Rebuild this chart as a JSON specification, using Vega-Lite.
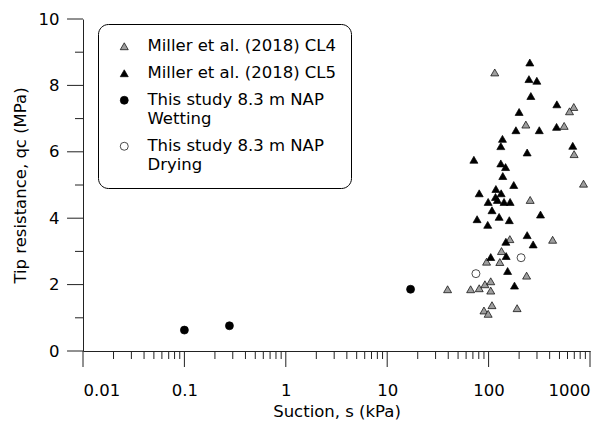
{
  "$schema": "https://vega.github.io/schema/vega-lite/v6.json",
  "width": 507,
  "height": 332,
  "autosize": "none",
  "padding": {"left": 83, "top": 19, "right": 23, "bottom": 72},
  "background": "white",
  "config": {
    "view": {"stroke": null},
    "font": "DejaVu Sans",
    "axis": {
      "labelFont": "DejaVu Sans", "labelFontSize": 16.5, "labelColor": "black",
      "titleFont": "DejaVu Sans", "titleFontSize": 16.5, "titleFontWeight": "normal", "titleColor": "black",
      "domainColor": "#222", "domainWidth": 1, "ticks": false, "grid": false
    },
    "legend": {"labelFont": "DejaVu Sans", "labelFontSize": 16.5, "labelColor": "black"}
  },
  "datasets": {
    "ticks": [
      {"kind": "xmajor", "value": 0.01}, {"kind": "xmajor", "value": 0.1}, {"kind": "xmajor", "value": 1},
      {"kind": "xmajor", "value": 10}, {"kind": "xmajor", "value": 100}, {"kind": "xmajor", "value": 1000},
      {"kind": "xminor", "value": 0.02}, {"kind": "xminor", "value": 0.03}, {"kind": "xminor", "value": 0.04},
      {"kind": "xminor", "value": 0.05}, {"kind": "xminor", "value": 0.06}, {"kind": "xminor", "value": 0.07},
      {"kind": "xminor", "value": 0.08}, {"kind": "xminor", "value": 0.09},
      {"kind": "xminor", "value": 0.2}, {"kind": "xminor", "value": 0.3}, {"kind": "xminor", "value": 0.4},
      {"kind": "xminor", "value": 0.5}, {"kind": "xminor", "value": 0.6}, {"kind": "xminor", "value": 0.7},
      {"kind": "xminor", "value": 0.8}, {"kind": "xminor", "value": 0.9},
      {"kind": "xminor", "value": 2}, {"kind": "xminor", "value": 3}, {"kind": "xminor", "value": 4},
      {"kind": "xminor", "value": 5}, {"kind": "xminor", "value": 6}, {"kind": "xminor", "value": 7},
      {"kind": "xminor", "value": 8}, {"kind": "xminor", "value": 9},
      {"kind": "xminor", "value": 20}, {"kind": "xminor", "value": 30}, {"kind": "xminor", "value": 40},
      {"kind": "xminor", "value": 50}, {"kind": "xminor", "value": 60}, {"kind": "xminor", "value": 70},
      {"kind": "xminor", "value": 80}, {"kind": "xminor", "value": 90},
      {"kind": "xminor", "value": 200}, {"kind": "xminor", "value": 300}, {"kind": "xminor", "value": 400},
      {"kind": "xminor", "value": 500}, {"kind": "xminor", "value": 600}, {"kind": "xminor", "value": 700},
      {"kind": "xminor", "value": 800}, {"kind": "xminor", "value": 900},
      {"kind": "ymajor", "value": 0}, {"kind": "ymajor", "value": 2}, {"kind": "ymajor", "value": 4},
      {"kind": "ymajor", "value": 6}, {"kind": "ymajor", "value": 8}, {"kind": "ymajor", "value": 10},
      {"kind": "yminor", "value": 1}, {"kind": "yminor", "value": 3}, {"kind": "yminor", "value": 5},
      {"kind": "yminor", "value": 7}, {"kind": "yminor", "value": 9}
    ],
    "points": [
      {"s": 39.4, "qc": 1.86, "series": "Miller et al. (2018) CL4"},
      {"s": 66.5, "qc": 1.86, "series": "Miller et al. (2018) CL4"},
      {"s": 80.8, "qc": 1.89, "series": "Miller et al. (2018) CL4"},
      {"s": 92, "qc": 2.01, "series": "Miller et al. (2018) CL4"},
      {"s": 105, "qc": 2.10, "series": "Miller et al. (2018) CL4"},
      {"s": 105, "qc": 1.82, "series": "Miller et al. (2018) CL4"},
      {"s": 108, "qc": 1.38, "series": "Miller et al. (2018) CL4"},
      {"s": 90, "qc": 1.22, "series": "Miller et al. (2018) CL4"},
      {"s": 99, "qc": 1.12, "series": "Miller et al. (2018) CL4"},
      {"s": 191, "qc": 1.29, "series": "Miller et al. (2018) CL4"},
      {"s": 237, "qc": 2.27, "series": "Miller et al. (2018) CL4"},
      {"s": 95.5, "qc": 2.69, "series": "Miller et al. (2018) CL4"},
      {"s": 129, "qc": 2.68, "series": "Miller et al. (2018) CL4"},
      {"s": 134, "qc": 3.01, "series": "Miller et al. (2018) CL4"},
      {"s": 162, "qc": 3.37, "series": "Miller et al. (2018) CL4"},
      {"s": 428, "qc": 3.35, "series": "Miller et al. (2018) CL4"},
      {"s": 697, "qc": 5.93, "series": "Miller et al. (2018) CL4"},
      {"s": 863, "qc": 5.04, "series": "Miller et al. (2018) CL4"},
      {"s": 257, "qc": 4.55, "series": "Miller et al. (2018) CL4"},
      {"s": 115, "qc": 8.39, "series": "Miller et al. (2018) CL4"},
      {"s": 692, "qc": 7.35, "series": "Miller et al. (2018) CL4"},
      {"s": 628, "qc": 7.22, "series": "Miller et al. (2018) CL4"},
      {"s": 233, "qc": 6.82, "series": "Miller et al. (2018) CL4"},
      {"s": 556, "qc": 6.78, "series": "Miller et al. (2018) CL4"},
      {"s": 148, "qc": 3.29, "series": "Miller et al. (2018) CL5"},
      {"s": 105, "qc": 2.83, "series": "Miller et al. (2018) CL5"},
      {"s": 149, "qc": 2.86, "series": "Miller et al. (2018) CL5"},
      {"s": 154, "qc": 2.41, "series": "Miller et al. (2018) CL5"},
      {"s": 180, "qc": 1.97, "series": "Miller et al. (2018) CL5"},
      {"s": 275, "qc": 3.21, "series": "Miller et al. (2018) CL5"},
      {"s": 240, "qc": 3.49, "series": "Miller et al. (2018) CL5"},
      {"s": 132, "qc": 6.17, "series": "Miller et al. (2018) CL5"},
      {"s": 240, "qc": 5.98, "series": "Miller et al. (2018) CL5"},
      {"s": 676, "qc": 6.18, "series": "Miller et al. (2018) CL5"},
      {"s": 71.6, "qc": 5.76, "series": "Miller et al. (2018) CL5"},
      {"s": 132, "qc": 5.65, "series": "Miller et al. (2018) CL5"},
      {"s": 147, "qc": 5.54, "series": "Miller et al. (2018) CL5"},
      {"s": 138, "qc": 5.27, "series": "Miller et al. (2018) CL5"},
      {"s": 177, "qc": 5.0, "series": "Miller et al. (2018) CL5"},
      {"s": 80.8, "qc": 4.75, "series": "Miller et al. (2018) CL5"},
      {"s": 118, "qc": 4.88, "series": "Miller et al. (2018) CL5"},
      {"s": 133, "qc": 4.75, "series": "Miller et al. (2018) CL5"},
      {"s": 117, "qc": 4.64, "series": "Miller et al. (2018) CL5"},
      {"s": 122, "qc": 4.55, "series": "Miller et al. (2018) CL5"},
      {"s": 99, "qc": 4.49, "series": "Miller et al. (2018) CL5"},
      {"s": 142, "qc": 4.49, "series": "Miller et al. (2018) CL5"},
      {"s": 163, "qc": 4.49, "series": "Miller et al. (2018) CL5"},
      {"s": 108, "qc": 4.24, "series": "Miller et al. (2018) CL5"},
      {"s": 325, "qc": 4.11, "series": "Miller et al. (2018) CL5"},
      {"s": 77, "qc": 3.97, "series": "Miller et al. (2018) CL5"},
      {"s": 127, "qc": 4.04, "series": "Miller et al. (2018) CL5"},
      {"s": 160, "qc": 3.94, "series": "Miller et al. (2018) CL5"},
      {"s": 98, "qc": 3.80, "series": "Miller et al. (2018) CL5"},
      {"s": 255, "qc": 8.69, "series": "Miller et al. (2018) CL5"},
      {"s": 250, "qc": 8.19, "series": "Miller et al. (2018) CL5"},
      {"s": 299, "qc": 8.14, "series": "Miller et al. (2018) CL5"},
      {"s": 261, "qc": 7.68, "series": "Miller et al. (2018) CL5"},
      {"s": 471, "qc": 7.43, "series": "Miller et al. (2018) CL5"},
      {"s": 200, "qc": 7.20, "series": "Miller et al. (2018) CL5"},
      {"s": 186, "qc": 6.65, "series": "Miller et al. (2018) CL5"},
      {"s": 316, "qc": 6.65, "series": "Miller et al. (2018) CL5"},
      {"s": 468, "qc": 6.75, "series": "Miller et al. (2018) CL5"},
      {"s": 137, "qc": 6.39, "series": "Miller et al. (2018) CL5"},
      {"s": 0.1, "qc": 0.63, "series": "This study 8.3 m NAP Wetting"},
      {"s": 0.278, "qc": 0.76, "series": "This study 8.3 m NAP Wetting"},
      {"s": 17, "qc": 1.86, "series": "This study 8.3 m NAP Wetting"},
      {"s": 75, "qc": 2.33, "series": "This study 8.3 m NAP Drying"},
      {"s": 209, "qc": 2.81, "series": "This study 8.3 m NAP Drying"}
    ]
  },
  "layer": [
    {
      "data": {"name": "points"},
      "mark": {"type": "point", "filled": true, "stroke": "black", "opacity": 1},
      "encoding": {
        "x": {"field": "s", "type": "quantitative", "scale": {"type": "log", "domain": [0.01, 1000], "nice": false},
          "axis": {"orient": "bottom", "values": [0.01, 0.1, 1, 10, 100, 1000], "format": "~g",
            "labelPadding": 31, "title": "Suction, s (kPa)", "titlePadding": 5}},
        "y": {"field": "qc", "type": "quantitative", "scale": {"domain": [0, 10], "nice": false, "zero": true},
          "axis": {"orient": "left", "values": [0, 2, 4, 6, 8, 10], "labelPadding": 24,
            "title": "Tip resistance, qc (MPa)", "titlePadding": 10}},
        "shape": {"field": "series", "type": "nominal",
          "scale": {"domain": ["Miller et al. (2018) CL4", "Miller et al. (2018) CL5", "This study 8.3 m NAP Wetting", "This study 8.3 m NAP Drying"],
            "range": ["triangle-up", "triangle-up", "circle", "circle"]},
          "legend": {
            "title": null, "orient": "none", "legendX": 15, "legendY": 5,
            "strokeColor": "black", "cornerRadius": 10, "fillColor": "white",
            "padding": 14, "symbolOffset": 4, "labelOffset": 15, "rowPadding": 10, "labelLimit": 400,
            "labelExpr": "indexof(datum.label, 'This study') == 0 ? [substring(datum.label, 0, 20), substring(datum.label, 21)] : datum.label",
            "encode": {"labels": {"update": {
              "lineHeight": {"value": 23.5},
              "dy": {"signal": "indexof(datum.label, 'This study') == 0 ? -11.75 : 0"}
            }}}
          }},
        "fill": {"field": "series", "type": "nominal",
          "scale": {"domain": ["Miller et al. (2018) CL4", "Miller et al. (2018) CL5", "This study 8.3 m NAP Wetting", "This study 8.3 m NAP Drying"],
            "range": ["#9e9e9e", "black", "black", "white"]}},
        "size": {"field": "series", "type": "nominal",
          "scale": {"domain": ["Miller et al. (2018) CL4", "Miller et al. (2018) CL5", "This study 8.3 m NAP Wetting", "This study 8.3 m NAP Drying"],
            "range": [64, 64, 132, 132]}},
        "strokeWidth": {"field": "series", "type": "nominal", "legend": null,
          "scale": {"domain": ["Miller et al. (2018) CL4", "Miller et al. (2018) CL5", "This study 8.3 m NAP Wetting", "This study 8.3 m NAP Drying"],
            "range": [0.7, 0.7, 0.5, 1]}}
      }
    },
    {
      "data": {"name": "ticks"},
      "transform": [{"filter": "datum.kind == 'xmajor'"}],
      "mark": {"type": "rule", "color": "#222", "strokeWidth": 1},
      "encoding": {
        "x": {"field": "value", "type": "quantitative", "axis": null},
        "y": {"datum": 0, "type": "quantitative", "axis": null},
        "y2": {"datum": -0.482}
      }
    },
    {
      "data": {"name": "ticks"},
      "transform": [{"filter": "datum.kind == 'xminor'"}],
      "mark": {"type": "rule", "color": "#222", "strokeWidth": 1},
      "encoding": {
        "x": {"field": "value", "type": "quantitative", "axis": null},
        "y": {"datum": 0, "type": "quantitative", "axis": null},
        "y2": {"datum": -0.241}
      }
    },
    {
      "data": {"name": "ticks"},
      "transform": [{"filter": "datum.kind == 'ymajor'"}],
      "mark": {"type": "rule", "color": "#222", "strokeWidth": 1},
      "encoding": {
        "y": {"field": "value", "type": "quantitative", "axis": null},
        "x": {"datum": 0.01, "type": "quantitative", "axis": null},
        "x2": {"datum": 0.00696}
      }
    },
    {
      "data": {"name": "ticks"},
      "transform": [{"filter": "datum.kind == 'yminor'"}],
      "mark": {"type": "rule", "color": "#222", "strokeWidth": 1},
      "encoding": {
        "y": {"field": "value", "type": "quantitative", "axis": null},
        "x": {"datum": 0.01, "type": "quantitative", "axis": null},
        "x2": {"datum": 0.00834}
      }
    }
  ],
  "resolve": {"axis": {"x": "independent", "y": "independent"}}
}
